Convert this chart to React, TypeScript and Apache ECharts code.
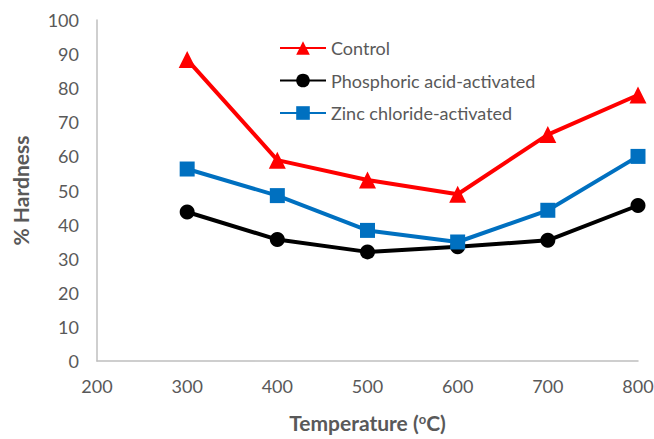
import React, { useEffect, useRef } from "react";
import * as echarts from "echarts";

const temperatures = [300, 400, 500, 600, 700, 800];
const controlValues = [88.4, 58.9, 53.1, 48.9, 66.4, 78.0];
const phosphoricValues = [43.7, 35.6, 32.0, 33.5, 35.4, 45.6];
const zincValues = [56.3, 48.5, 38.3, 34.9, 44.2, 60.0];

const FONT = "Lato, 'Open Sans', sans-serif";
const GREY = "#595959";

export default function App() {
  const ref = useRef<HTMLDivElement>(null);
  useEffect(() => {
    if (!ref.current) return;
    const chart = echarts.init(ref.current, undefined, { renderer: "svg" });
    const pair = (vals: number[]) => temperatures.map((t, i) => [t, vals[i]]);
    chart.setOption({
      animation: false,
      backgroundColor: "#ffffff",
      textStyle: { fontFamily: FONT },
      grid: { left: 97, right: 16, top: 20, bottom: 78, containLabel: false, outerBoundsMode: "none" },
      legend: {
        orient: "vertical",
        left: 274,
        top: 34,
        itemGap: 14.5,
        itemWidth: 46,
        itemHeight: 17,
        textStyle: { fontFamily: FONT, fontSize: 18, color: GREY },
        data: ["Control", "Phosphoric acid-activated", "Zinc chloride-activated"],
      },
      xAxis: {
        type: "value",
        min: 200,
        max: 800,
        interval: 100,
        name: "{b|Temperature (}{sup|o}{b|C)}",
        nameLocation: "middle",
        nameGap: 51,
        nameTextStyle: {
          fontFamily: FONT,
          fontSize: 21,
          fontWeight: "bold",
          color: GREY,
          rich: {
            b: { fontFamily: FONT, fontSize: 21, fontWeight: "bold", color: GREY },
            sup: { fontFamily: FONT, fontSize: 13, fontWeight: "bold", color: GREY, verticalAlign: "top", padding: [0, 0, 8, 0] },
          },
        },
        axisLine: { show: true, lineStyle: { color: "#BFBFBF", width: 1.5 } },
        axisTick: { show: false },
        splitLine: { show: false },
        axisLabel: { fontFamily: FONT, fontSize: 18, color: GREY, margin: 16 },
      },
      yAxis: {
        type: "value",
        min: 0,
        max: 100,
        interval: 10,
        name: "% Hardness",
        nameLocation: "middle",
        nameGap: 66,
        nameTextStyle: { fontFamily: FONT, fontSize: 21, fontWeight: "bold", color: GREY },
        axisLine: { show: true, lineStyle: { color: "#BFBFBF", width: 1.5 } },
        axisTick: { show: false },
        splitLine: { show: false },
        axisLabel: { fontFamily: FONT, fontSize: 18, color: GREY, margin: 18 },
      },
      series: [
        {
          name: "Control",
          type: "line",
          data: pair(controlValues),
          symbol: "triangle",
          symbolSize: 17,
          lineStyle: { color: "#FF0000", width: 4 },
          itemStyle: { color: "#FF0000" },
        },
        {
          name: "Phosphoric acid-activated",
          type: "line",
          data: pair(phosphoricValues),
          symbol: "circle",
          symbolSize: 15,
          lineStyle: { color: "#000000", width: 4 },
          itemStyle: { color: "#000000" },
        },
        {
          name: "Zinc chloride-activated",
          type: "line",
          data: pair(zincValues),
          symbol: "rect",
          symbolSize: 15,
          lineStyle: { color: "#0070C0", width: 4 },
          itemStyle: { color: "#0070C0" },
        },
      ],
    });
    return () => chart.dispose();
  }, []);
  return <div ref={ref} style={{ width: 654, height: 439, position: "absolute", left: 0, top: 0 }} />;
}
